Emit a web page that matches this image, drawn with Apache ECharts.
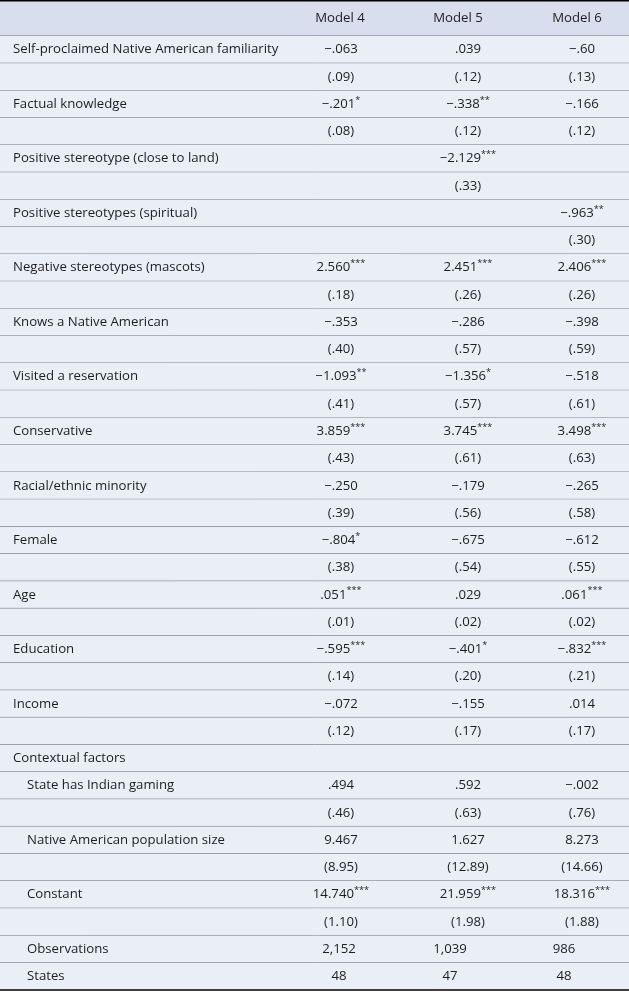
<!DOCTYPE html>
<html><head><meta charset="utf-8">
<script src="https://cdn.jsdelivr.net/npm/echarts@6/dist/echarts.min.js"></script>
<style>html,body{margin:0;padding:0;background:#fff}#c{width:629px;height:992px}</style>
</head><body><div id="c"></div>
<script>
// ---------- data ----------
const modelNames = ["Model 4", "Model 5", "Model 6"];
const variables = [
  "Self-proclaimed Native American familiarity",
  "Factual knowledge",
  "Positive stereotype (close to land)",
  "Positive stereotypes (spiritual)",
  "Negative stereotypes (mascots)",
  "Knows a Native American",
  "Visited a reservation",
  "Conservative",
  "Racial/ethnic minority",
  "Female",
  "Age",
  "Education",
  "Income"
];
const model4Coef = ["−.063", "−.201*", "", "", "2.560***", "−.353", "−1.093**", "3.859***", "−.250", "−.804*", ".051***", "−.595***", "−.072"];
const model4SE   = ["(.09)", "(.08)", "", "", "(.18)", "(.40)", "(.41)", "(.43)", "(.39)", "(.38)", "(.01)", "(.14)", "(.12)"];
const model5Coef = [".039", "−.338**", "−2.129***", "", "2.451***", "−.286", "−1.356*", "3.745***", "−.179", "−.675", ".029", "−.401*", "−.155"];
const model5SE   = ["(.12)", "(.12)", "(.33)", "", "(.26)", "(.57)", "(.57)", "(.61)", "(.56)", "(.54)", "(.02)", "(.20)", "(.17)"];
const model6Coef = ["−.60", "−.166", "", "−.963**", "2.406***", "−.398", "−.518", "3.498***", "−.265", "−.612", ".061***", "−.832***", ".014"];
const model6SE   = ["(.13)", "(.12)", "", "(.30)", "(.26)", "(.59)", "(.61)", "(.63)", "(.58)", "(.55)", "(.02)", "(.21)", "(.17)"];

const contextHeading = "Contextual factors";
const contextVars = ["State has Indian gaming", "Native American population size", "Constant"];
const ctx4Coef = [".494", "9.467", "14.740***"];
const ctx4SE   = ["(.46)", "(8.95)", "(1.10)"];
const ctx5Coef = [".592", "1.627", "21.959***"];
const ctx5SE   = ["(.63)", "(12.89)", "(1.98)"];
const ctx6Coef = ["−.002", "8.273", "18.316***"];
const ctx6SE   = ["(.76)", "(14.66)", "(1.88)"];

const fitLabels = ["Observations", "States"];
const fit4 = ["2,152", "48"];
const fit5 = ["1,039", "47"];
const fit6 = ["986", "48"];

// ---------- layout ----------
const W = 629, H = 992;
const headerH = 36, bodyBottom = 990;
const labelX = 13, indentX = 27;
const colX = [341, 468, 582];
const headColX = [340, 458, 577];
const fitColX = [339, 450, 564];
const FONT = "'Open Sans'";
const txtColor = "#1e1e1e";
const lineColor = "#707070";

// choose font size so the longest label spans the same width as in the reference
const FS = (function () {
  const cv = document.createElement("canvas").getContext("2d");
  cv.font = "13px " + FONT;
  const w = cv.measureText(variables[0]).width;
  const s = 13 * 265 / w;
  return (isFinite(s) && s > 9 && s < 16) ? Math.round(s * 10) / 10 : 12.2;
})();
const FS_STAR = Math.round(FS * 0.7 * 10) / 10;

// ---------- build rows ----------
const rows = [];
variables.forEach((v, i) => {
  rows.push({ label: v, indent: 0, cells: [model4Coef[i], model5Coef[i], model6Coef[i]], kind: "coef" });
  rows.push({ label: "", indent: 0, cells: [model4SE[i], model5SE[i], model6SE[i]], kind: "se" });
});
rows.push({ label: contextHeading, indent: 0, cells: ["", "", ""], kind: "head" });
contextVars.forEach((v, i) => {
  rows.push({ label: v, indent: 1, cells: [ctx4Coef[i], ctx5Coef[i], ctx6Coef[i]], kind: "coef" });
  rows.push({ label: "", indent: 1, cells: [ctx4SE[i], ctx5SE[i], ctx6SE[i]], kind: "se" });
});
fitLabels.forEach((v, i) => {
  rows.push({ label: v, indent: 1, cells: [fit4[i], fit5[i], fit6[i]], kind: "fit" });
});

function richText(s) {
  const m = s.match(/^(.*?)(\**)$/);
  if (m[2]) return "{n|" + m[1] + "}{s|" + m[2] + "}";
  return "{n|" + s + "}";
}
const rich = {
  n: { fontFamily: "Open Sans", fontSize: FS, fill: txtColor, lineHeight: 17 },
  s: { fontFamily: "Open Sans", fontSize: FS_STAR, fill: txtColor, lineHeight: 17, verticalAlign: "top" }
};

const chart = echarts.init(document.getElementById("c"), null, { renderer: "canvas" });

const option = {
  animation: false,
  backgroundColor: "#ffffff",
  grid: [
    { left: 0, right: 0, top: 0, height: headerH },
    { left: 0, right: 0, top: headerH, height: bodyBottom - headerH }
  ],
  xAxis: [
    { type: "value", min: 0, max: W, gridIndex: 0, show: false },
    { type: "value", min: 0, max: W, gridIndex: 1, show: false }
  ],
  yAxis: [
    { type: "category", data: ["header"], gridIndex: 0, show: false, inverse: true },
    { type: "category", data: rows.map((r, i) => i), gridIndex: 1, show: false, inverse: true }
  ],
  series: [
    {
      type: "custom",
      xAxisIndex: 0, yAxisIndex: 0,
      data: [[0, 0]],
      renderItem: function (params, api) {
        const cs = params.coordSys;
        const c = api.coord([0, 0]);
        const bh = api.size([0, 1])[1];
        const top = c[1] - bh / 2;
        const children = [
          { type: "rect", shape: { x: cs.x, y: top, width: cs.width, height: bh }, style: { fill: "#d9deee" } },
          { type: "line", shape: { x1: cs.x, y1: top + 0.75, x2: cs.x + cs.width, y2: top + 0.75 }, style: { stroke: "#000", lineWidth: 1.5 } },
          { type: "line", shape: { x1: cs.x, y1: top + bh, x2: cs.x + cs.width, y2: top + bh }, style: { stroke: lineColor, lineWidth: 1 } }
        ];
        modelNames.forEach((m, k) => {
          const p = api.coord([headColX[k], 0]);
          children.push({ type: "text", style: { text: m, x: p[0], y: p[1], align: "center", verticalAlign: "middle", font: FS + "px " + FONT, fill: txtColor } });
        });
        return { type: "group", children: children };
      }
    },
    {
      type: "custom",
      xAxisIndex: 1, yAxisIndex: 1,
      data: rows.map((r, i) => [0, i]),
      renderItem: function (params, api) {
        const cs = params.coordSys;
        const i = api.value(1);
        const r = rows[i];
        const c = api.coord([0, i]);
        const bh = api.size([0, 1])[1];
        const top = c[1] - bh / 2;
        const children = [
          { type: "rect", shape: { x: cs.x, y: top, width: cs.width, height: bh }, style: { fill: "#eaeef7" } }
        ];
        const last = i === rows.length - 1;
        children.push({ type: "line", shape: { x1: cs.x, y1: top + bh, x2: cs.x + cs.width, y2: top + bh },
          style: { stroke: last ? "#000" : lineColor, lineWidth: last ? 1.5 : 1 } });
        if (r.label) {
          const p = api.coord([r.indent ? indentX : labelX, i]);
          children.push({ type: "text", style: { text: r.label, x: p[0], y: p[1], align: "left", verticalAlign: "middle", font: FS + "px " + FONT, fill: txtColor } });
        }
        const xs = r.kind === "fit" ? fitColX : colX;
        r.cells.forEach((v, k) => {
          if (!v) return;
          const p = api.coord([xs[k], i]);
          children.push({ type: "text", style: { text: richText(v), rich: rich, x: p[0], y: p[1], align: "center", verticalAlign: "middle" } });
        });
        return { type: "group", children: children };
      }
    }
  ]
};
chart.setOption(option);
</script>
</body></html>
